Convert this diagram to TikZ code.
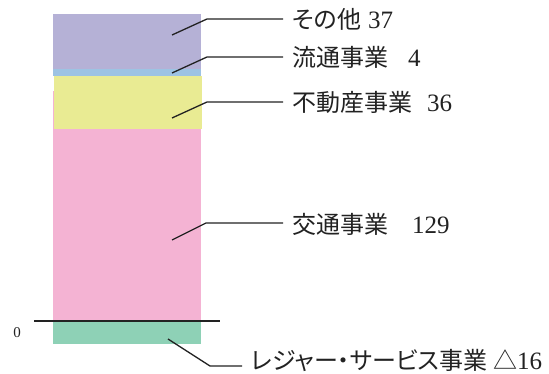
\documentclass[tikz,border=0pt]{standalone}
\usepackage{fontspec}
\usetikzlibrary{calc}
\setmainfont{Liberation Serif}
\newfontfamily\cjk[RawFeature=+palt]{Noto Sans CJK JP}
\definecolor{cpurple}{HTML}{B5B1D6}
\definecolor{cblue}{HTML}{9DC3E3}
\definecolor{cyellow}{HTML}{E9EB93}
\definecolor{cpink}{HTML}{F4B3D3}
\definecolor{cgreen}{HTML}{8ED1B6}
\definecolor{cline}{HTML}{222222}
\newcommand{\jp}[1]{{\cjk\fontsize{24}{24}\selectfont #1}}
\begin{document}
\begin{tikzpicture}[x=1pt,y=-1pt,
  leader/.style={draw=cline,line width=1.3pt},
  lab/.style={anchor=base west,inner sep=0pt,text=cline,font=\fontsize{25}{25}\selectfont}]
\useasboundingbox (0,0) rectangle (549,374);
% segments
\fill[cpurple] (53,14) rectangle (201,69);
\fill[cblue] (53,69) rectangle (201,76);
\fill[cpink] (53,91) rectangle (201,321);
\fill[cyellow] (54,76) rectangle (202,129);
\fill[cgreen] (53,321) rectangle (201,344);
% zero line
\coordinate (z1) at (34,321);
\coordinate (z2) at (220,321);
\draw[cline,line width=1.3pt] (z1) -- (z2);
\node[inner sep=0pt,font=\fontsize{15}{15}\selectfont,text=cline] (zero) at (17,333) {0};
% labels
\node[lab] (l1) at (292,29) {\makebox[76pt][l]{\jp{その他}}37};
\node[lab] (l2) at (292,67) {\makebox[116pt][l]{\jp{流通事業}}4};
\node[lab] (l3) at (292,112) {\makebox[135pt][l]{\jp{不動産事業}}36};
\node[lab] (l4) at (292,234) {\makebox[120pt][l]{\jp{交通事業}}129};
\node[lab] (l5) at (251,369) {\makebox[242pt][l]{\jp{レジャー・サービス事業}}\jp{△}16};
% leaders
\coordinate (a1) at (172,35); \coordinate (b1) at (207,19);
\coordinate (a2) at (172,73); \coordinate (b2) at (207,57);
\coordinate (a3) at (172,118); \coordinate (b3) at (207,102);
\coordinate (a4) at (172,240); \coordinate (b4) at (206,223);
\coordinate (a5) at (168,339); \coordinate (b5) at (210,366);
\draw[leader] (a1) -- (b1) -- ($(b1 -| l1.west)+(-9pt,0)$);
\draw[leader] (a2) -- (b2) -- ($(b2 -| l2.west)+(-9pt,0)$);
\draw[leader] (a3) -- (b3) -- ($(b3 -| l3.west)+(-9pt,0)$);
\draw[leader] (a4) -- (b4) -- ($(b4 -| l4.west)+(-9pt,0)$);
\draw[leader] (a5) -- (b5) -- ($(b5 -| l5.west)+(-9pt,0)$);
\end{tikzpicture}
\end{document}
